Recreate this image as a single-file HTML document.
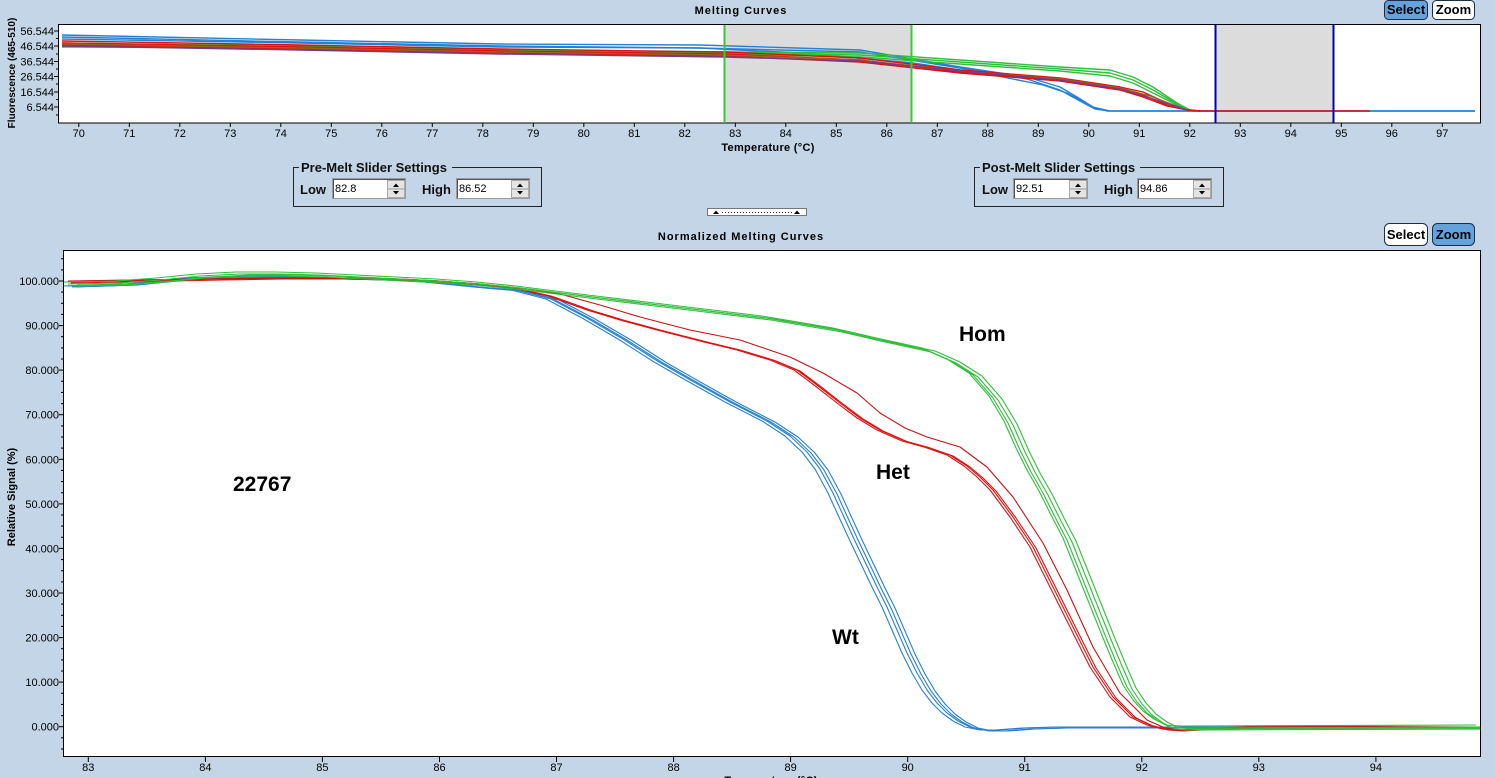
<!DOCTYPE html>
<html><head><meta charset="utf-8"><style>
html,body{margin:0;padding:0;background:#c3d5e6;}
svg{display:block;}
text{font-family:"Liberation Sans",Arial,sans-serif;}
</style></head><body>
<svg width="1495" height="778" viewBox="0 0 1495 778" xmlns="http://www.w3.org/2000/svg">
<rect x="0" y="0" width="1495" height="778" fill="#c3d5e6"/>

<!-- ===== TOP CHART ===== -->
<text x="741" y="14" font-size="11" font-weight="bold" letter-spacing="1" text-anchor="middle" fill="#000">Melting Curves</text>
<!-- buttons -->
<rect x="1384.5" y="0.5" width="43" height="19" rx="4" fill="#64a2dc" stroke="#1a2e48"/>
<text x="1406" y="14" font-size="13" font-weight="bold" text-anchor="middle" fill="#000">Select</text>
<rect x="1432.5" y="0.5" width="42" height="19" rx="4" fill="#fff" stroke="#1a2e48"/>
<text x="1453.5" y="14" font-size="13" font-weight="bold" text-anchor="middle" fill="#000">Zoom</text>

<rect x="58" y="24" width="1423" height="99" fill="#fff"/>
<rect x="725" y="25" width="186" height="98" fill="#dcdcdc"/>
<rect x="1216" y="25" width="117" height="98" fill="#dcdcdc"/>
<defs><clipPath id="ct"><rect x="59" y="25" width="1421" height="97"/></clipPath>
<clipPath id="cb"><rect x="64" y="251" width="1416" height="505"/></clipPath></defs>
<g clip-path="url(#ct)" fill="none" stroke-width="1.4" stroke-linejoin="round">
 <g stroke="#2680d2">
  <polyline points="62,35 300,40 500,44 700,45 860,50 960,67 1027,77 1060,87 1077,97 1093,107 1107,111 1475,111"/>
  <polyline points="62,37 300,42 500,46 700,48 800,53 913,63 993,75 1043,85 1067,93 1093,107 1110,111 1475,111"/>
  <polyline points="62,39 300,43 500,47 700,48 860,52 960,68 1027,79 1060,90 1080,101 1095,109 1110,111"/>
 </g>
 <g stroke="#30bf3c">
  <polyline points="62,47 300,48 500,50 725,52 860,53 960,60 1060,67 1110,70 1133,77 1153,87 1177,103 1190,110 1200,111"/>
  <polyline points="62,45 300,47 500,51 725,53 860,55 960,62 1060,69 1110,73 1133,80 1153,90 1177,104 1190,110 1200,111"/>
  <polyline points="62,43 300,46 500,50 725,54 860,57 960,64 1060,71 1110,76 1133,83 1153,93 1177,105 1190,110 1200,111"/>
 </g>
 <g stroke="#dd1111">
  <polyline points="62,41 300,45 500,49 725,52 860,58 960,70 1060,78 1120,87 1143,92 1167,103 1187,110 1200,111 1370,111"/>
  <polyline points="62,43 300,47 500,51 725,54 860,60 960,72 1060,80 1120,89 1143,95 1167,105 1187,110 1200,111"/>
  <polyline points="62,45 300,49 500,53 725,56 860,62 960,73 1060,81 1120,90 1143,97 1167,106 1187,110 1200,111"/>
 </g>
 <polyline stroke="#a0601a" points="62,44 300,48 500,52 725,55 860,60 960,71 1060,79 1120,88 1150,96 1187,110"/>
 <polyline stroke="#7a3a8a" points="62,46 300,50 500,54 725,57 860,61 960,71 1060,80 1120,89 1150,98 1187,110"/>
</g>
<rect x="58.5" y="24.5" width="1422" height="98.5" fill="none" stroke="#000"/>
<line x1="724.5" y1="25" x2="724.5" y2="123" stroke="#3c3" stroke-width="2"/>
<line x1="911.5" y1="25" x2="911.5" y2="123" stroke="#3c3" stroke-width="2"/>
<line x1="1215.5" y1="25" x2="1215.5" y2="123" stroke="#0000b0" stroke-width="2"/>
<line x1="1333.5" y1="25" x2="1333.5" y2="123" stroke="#0000b0" stroke-width="2"/>
<!-- top y ticks -->
<g stroke="#000"><line x1="54" y1="31" x2="58" y2="31"/><line x1="54" y1="46" x2="58" y2="46"/><line x1="54" y1="61.5" x2="58" y2="61.5"/><line x1="54" y1="76.5" x2="58" y2="76.5"/><line x1="54" y1="92" x2="58" y2="92"/><line x1="54" y1="107" x2="58" y2="107"/>
<line x1="56" y1="38.5" x2="58" y2="38.5"/><line x1="56" y1="54" x2="58" y2="54"/><line x1="56" y1="69" x2="58" y2="69"/><line x1="56" y1="84" x2="58" y2="84"/><line x1="56" y1="99.5" x2="58" y2="99.5"/><line x1="56" y1="115" x2="58" y2="115"/></g>
<g font-size="11" text-anchor="end" fill="#000">
<text x="54" y="35">56.544</text><text x="54" y="50">46.544</text><text x="54" y="65.5">36.544</text><text x="54" y="80.5">26.544</text><text x="54" y="96">16.544</text><text x="54" y="111">6.544</text></g>
<text transform="translate(15,73) rotate(-90)" font-size="10" font-weight="bold" text-anchor="middle" fill="#000">Fluorescence (465-510)</text>
<!-- top x ticks -->
<g stroke="#000">
<line x1="78.8" y1="123" x2="78.8" y2="127"/><line x1="129.3" y1="123" x2="129.3" y2="127"/><line x1="179.8" y1="123" x2="179.8" y2="127"/><line x1="230.3" y1="123" x2="230.3" y2="127"/><line x1="280.8" y1="123" x2="280.8" y2="127"/><line x1="331.3" y1="123" x2="331.3" y2="127"/><line x1="381.8" y1="123" x2="381.8" y2="127"/><line x1="432.3" y1="123" x2="432.3" y2="127"/><line x1="482.8" y1="123" x2="482.8" y2="127"/><line x1="533.3" y1="123" x2="533.3" y2="127"/><line x1="583.8" y1="123" x2="583.8" y2="127"/><line x1="634.3" y1="123" x2="634.3" y2="127"/><line x1="684.8" y1="123" x2="684.8" y2="127"/><line x1="735.3" y1="123" x2="735.3" y2="127"/><line x1="785.8" y1="123" x2="785.8" y2="127"/><line x1="836.3" y1="123" x2="836.3" y2="127"/><line x1="886.8" y1="123" x2="886.8" y2="127"/><line x1="937.3" y1="123" x2="937.3" y2="127"/><line x1="987.8" y1="123" x2="987.8" y2="127"/><line x1="1038.3" y1="123" x2="1038.3" y2="127"/><line x1="1088.8" y1="123" x2="1088.8" y2="127"/><line x1="1139.3" y1="123" x2="1139.3" y2="127"/><line x1="1189.8" y1="123" x2="1189.8" y2="127"/><line x1="1240.3" y1="123" x2="1240.3" y2="127"/><line x1="1290.8" y1="123" x2="1290.8" y2="127"/><line x1="1341.3" y1="123" x2="1341.3" y2="127"/><line x1="1391.8" y1="123" x2="1391.8" y2="127"/><line x1="1442.3" y1="123" x2="1442.3" y2="127"/></g>
<g font-size="11" text-anchor="middle" fill="#000">
<text x="78.8" y="137">70</text><text x="129.3" y="137">71</text><text x="179.8" y="137">72</text><text x="230.3" y="137">73</text><text x="280.8" y="137">74</text><text x="331.3" y="137">75</text><text x="381.8" y="137">76</text><text x="432.3" y="137">77</text><text x="482.8" y="137">78</text><text x="533.3" y="137">79</text><text x="583.8" y="137">80</text><text x="634.3" y="137">81</text><text x="684.8" y="137">82</text><text x="735.3" y="137">83</text><text x="785.8" y="137">84</text><text x="836.3" y="137">85</text><text x="886.8" y="137">86</text><text x="937.3" y="137">87</text><text x="987.8" y="137">88</text><text x="1038.3" y="137">89</text><text x="1088.8" y="137">90</text><text x="1139.3" y="137">91</text><text x="1189.8" y="137">92</text><text x="1240.3" y="137">93</text><text x="1290.8" y="137">94</text><text x="1341.3" y="137">95</text><text x="1391.8" y="137">96</text><text x="1442.3" y="137">97</text></g>
<text x="768" y="151" font-size="11" font-weight="bold" letter-spacing="0.3" text-anchor="middle" fill="#000">Temperature (°C)</text>

<!-- ===== SLIDER SETTINGS ===== -->
<g>
<path d="M299,167.5 H293.5 V206.5 H541.5 V167.5 H452" fill="none" stroke="#222"/>
<text x="301" y="172" font-size="13" font-weight="bold" fill="#111">Pre-Melt Slider Settings</text>
<text x="300" y="194" font-size="13" font-weight="bold" fill="#111">Low</text>
<rect x="332.5" y="178.5" width="73" height="20" fill="#fff" stroke="#999"/>
<line x1="333" y1="179.5" x2="405" y2="179.5" stroke="#555"/><line x1="333.5" y1="179" x2="333.5" y2="198" stroke="#555"/>
<text x="335" y="192" font-size="11" fill="#000">82.8</text>
<rect x="387.5" y="180.5" width="17" height="17" fill="#e4e4e4" stroke="#aaa"/><line x1="388" y1="189" x2="404" y2="189" stroke="#999"/>
<path d="M393,187 L396,183.5 L399,187Z M393,191 L396,194.5 L399,191Z" fill="#000"/>
<text x="422" y="194" font-size="13" font-weight="bold" fill="#111">High</text>
<rect x="456.5" y="178.5" width="73" height="20" fill="#fff" stroke="#999"/>
<line x1="457" y1="179.5" x2="529" y2="179.5" stroke="#555"/><line x1="457.5" y1="179" x2="457.5" y2="198" stroke="#555"/>
<text x="459" y="192" font-size="11" fill="#000">86.52</text>
<rect x="511.5" y="180.5" width="17" height="17" fill="#e4e4e4" stroke="#aaa"/><line x1="512" y1="189" x2="528" y2="189" stroke="#999"/>
<path d="M517,187 L520,183.5 L523,187Z M517,191 L520,194.5 L523,191Z" fill="#000"/>
</g>
<g>
<path d="M980,167.5 H974.5 V206.5 H1223.5 V167.5 H1140" fill="none" stroke="#222"/>
<text x="982" y="172" font-size="13" font-weight="bold" fill="#111">Post-Melt Slider Settings</text>
<text x="982" y="194" font-size="13" font-weight="bold" fill="#111">Low</text>
<rect x="1013.5" y="178.5" width="74" height="20" fill="#fff" stroke="#999"/>
<line x1="1014" y1="179.5" x2="1087" y2="179.5" stroke="#555"/><line x1="1014.5" y1="179" x2="1014.5" y2="198" stroke="#555"/>
<text x="1016" y="192" font-size="11" fill="#000">92.51</text>
<rect x="1069.5" y="180.5" width="17" height="17" fill="#e4e4e4" stroke="#aaa"/><line x1="1070" y1="189" x2="1086" y2="189" stroke="#999"/>
<path d="M1075,187 L1078,183.5 L1081,187Z M1075,191 L1078,194.5 L1081,191Z" fill="#000"/>
<text x="1104" y="194" font-size="13" font-weight="bold" fill="#111">High</text>
<rect x="1137.5" y="178.5" width="74" height="20" fill="#fff" stroke="#999"/>
<line x1="1138" y1="179.5" x2="1211" y2="179.5" stroke="#555"/><line x1="1138.5" y1="179" x2="1138.5" y2="198" stroke="#555"/>
<text x="1140" y="192" font-size="11" fill="#000">94.86</text>
<rect x="1193.5" y="180.5" width="17" height="17" fill="#e4e4e4" stroke="#aaa"/><line x1="1194" y1="189" x2="1210" y2="189" stroke="#999"/>
<path d="M1199,187 L1202,183.5 L1205,187Z M1199,191 L1202,194.5 L1205,191Z" fill="#000"/>
</g>
<!-- splitter -->
<rect x="707.5" y="208.5" width="99" height="7" fill="#fff" stroke="#777"/>
<path d="M713,214 L716,210.5 L719,214Z M794,214 L797,210.5 L800,214Z" fill="#000"/>
<line x1="722" y1="212.5" x2="792" y2="212.5" stroke="#333" stroke-dasharray="1,2"/>

<!-- ===== BOTTOM CHART ===== -->
<text x="741" y="240" font-size="11" font-weight="bold" letter-spacing="1" text-anchor="middle" fill="#000">Normalized Melting Curves</text>
<rect x="1384.5" y="223.5" width="43" height="22" rx="5" fill="#fff" stroke="#1a2e48"/>
<text x="1406" y="239" font-size="13" font-weight="bold" text-anchor="middle" fill="#000">Select</text>
<rect x="1432.5" y="223.5" width="42" height="22" rx="5" fill="#64a2dc" stroke="#1a2e48"/>
<text x="1453.5" y="239" font-size="13" font-weight="bold" text-anchor="middle" fill="#000">Zoom</text>

<rect x="63" y="250" width="1418" height="507" fill="#fff"/>
<g clip-path="url(#cb)" fill="none" stroke-width="1.1" stroke-linejoin="round">
 <g stroke="#2680d2">
  <polyline id="bl" points="68,286 100,285 130,284 160,281 190,278 220,277 260,276 300,277 340,278 380,279 420,281 450,284 480,287 516,290 551,299 587,318 623,339 659,362 694,382 730,402 767,421 790,436 807,452 820,469 833,493 843,515 855,541 867,566 877,587 887,607 897,630 907,653 917,673 927,690 937,703 947,713 958,721 970,727 985,730 1000,730 1027,728 1060,727 1480,727"/>
  <polyline transform="translate(-5,0)" points="68,286 100,285 130,284 160,281 190,278 220,277 260,276 300,277 340,278 380,279 420,281 450,284 480,287 516,290 551,299 587,318 623,339 659,362 694,382 730,402 767,421 790,436 807,452 820,469 833,493 843,515 855,541 867,566 877,587 887,607 897,630 907,653 917,673 927,690 937,703 947,713 958,721 970,727 985,730 1000,730 1027,728 1060,727 1480,727"/>
  <polyline transform="translate(4,1)" points="68,286 100,285 130,284 160,281 190,278 220,277 260,276 300,277 340,278 380,279 420,281 450,284 480,287 516,290 551,299 587,318 623,339 659,362 694,382 730,402 767,421 790,436 807,452 820,469 833,493 843,515 855,541 867,566 877,587 887,607 897,630 907,653 917,673 927,690 937,703 947,713 958,721 970,727 985,730 1000,730 1027,728 1060,727 1480,727"/>
  <polyline transform="translate(8,1)" points="68,286 100,285 130,284 160,281 190,278 220,277 260,276 300,277 340,278 380,279 420,281 450,284 480,287 516,290 551,299 587,318 623,339 659,362 694,382 730,402 767,421 790,436 807,452 820,469 833,493 843,515 855,541 867,566 877,587 887,607 897,630 907,653 917,673 927,690 937,703 947,713 958,721 970,727 985,730 1000,730 1027,728 1060,727 1480,727"/>
 </g>
 <g stroke="#dd1111">
  <polyline points="68,282 120,281 170,280 220,279 280,278 340,278 400,279 440,281 480,284 520,289 551,296 590,310 623,320 660,330 707,342 740,350 773,360 797,370 817,385 840,403 860,418 880,430 905,441 927,447 950,455 967,466 980,477 993,490 1013,517 1033,547 1053,587 1073,627 1093,667 1113,697 1133,717 1150,725 1165,729 1180,730 1200,729 1230,728 1260,726 1300,726 1340,727 1480,727"/>
  <polyline transform="translate(-3,0)" points="68,282 120,281 170,280 220,279 280,278 340,278 400,279 440,281 480,284 520,289 551,296 590,310 623,320 660,330 707,342 740,350 773,360 797,370 817,385 840,403 860,418 880,430 905,441 927,447 950,455 967,466 980,477 993,490 1013,517 1033,547 1053,587 1073,627 1093,667 1113,697 1133,717 1150,725 1165,729 1180,730 1200,729 1230,728 1260,726 1300,726 1340,727 1480,727"/>
  <polyline transform="translate(3,1)" points="68,282 120,281 170,280 220,279 280,278 340,278 400,279 440,281 480,284 520,289 551,296 590,310 623,320 660,330 707,342 740,350 773,360 797,370 817,385 840,403 860,418 880,430 905,441 927,447 950,455 967,466 980,477 993,490 1013,517 1033,547 1053,587 1073,627 1093,667 1113,697 1133,717 1150,725 1165,729 1180,730 1200,729 1230,728 1260,726 1300,726 1340,727 1480,727"/>
  <polyline stroke="#c81010" points="68,281 200,279 300,278 400,279 440,281 480,284 520,288 560,294 600,305 640,317 690,330 740,340 790,357 823,373 857,393 880,413 905,428 927,437 960,447 987,467 1013,497 1043,543 1067,590 1093,647 1120,693 1147,720 1165,728 1180,730 1200,729 1260,726 1480,727"/>
 </g>
 <g stroke="#2fbf3a">
  <polyline points="68,284 120,283 160,280 200,276 240,274 280,274 320,275 360,277 400,279 440,281 480,284 520,288 551,292 600,298 650,304 700,310 766,318 837,330 880,340 926,350 951,361 973,375 993,398 1008,423 1020,450 1031,472 1043,493 1055,517 1067,540 1077,565 1087,590 1097,615 1107,640 1117,664 1127,687 1137,702 1147,713 1158,721 1170,727 1185,728 1480,727"/>
  <polyline transform="translate(-4,-2)" points="68,284 120,283 160,280 200,276 240,274 280,274 320,275 360,277 400,279 440,281 480,284 520,288 551,292 600,298 650,304 700,310 766,318 837,330 880,340 926,350 951,361 973,375 993,398 1008,423 1020,450 1031,472 1043,493 1055,517 1067,540 1077,565 1087,590 1097,615 1107,640 1117,664 1127,687 1137,702 1147,713 1158,721 1170,727 1185,728 1480,727"/>
  <polyline transform="translate(5,2)" points="68,284 120,283 160,280 200,276 240,274 280,274 320,275 360,277 400,279 440,281 480,284 520,288 551,292 600,298 650,304 700,310 766,318 837,330 880,340 926,350 951,361 973,375 993,398 1008,423 1020,450 1031,472 1043,493 1055,517 1067,540 1077,565 1087,590 1097,615 1107,640 1117,664 1127,687 1137,702 1147,713 1158,721 1170,727 1185,728 1480,727"/>
  <polyline transform="translate(9,1)" points="68,284 120,283 160,280 200,276 240,274 280,274 320,275 360,277 400,279 440,281 480,284 520,288 551,292 600,298 650,304 700,310 766,318 837,330 880,340 926,350 951,361 973,375 993,398 1008,423 1020,450 1031,472 1043,493 1055,517 1067,540 1077,565 1087,590 1097,615 1107,640 1117,664 1127,687 1137,702 1147,713 1158,721 1170,727 1185,728 1480,727"/>
 </g>
</g>
<rect x="63.5" y="250.5" width="1417" height="506" fill="none" stroke="#000"/>
<!-- bottom y ticks -->
<g stroke="#000">
<line x1="59" y1="281" x2="63" y2="281"/><line x1="59" y1="325.6" x2="63" y2="325.6"/><line x1="59" y1="370.1" x2="63" y2="370.1"/><line x1="59" y1="414.7" x2="63" y2="414.7"/><line x1="59" y1="459.3" x2="63" y2="459.3"/><line x1="59" y1="503.9" x2="63" y2="503.9"/><line x1="59" y1="548.4" x2="63" y2="548.4"/><line x1="59" y1="593" x2="63" y2="593"/><line x1="59" y1="637.6" x2="63" y2="637.6"/><line x1="59" y1="682.1" x2="63" y2="682.1"/><line x1="59" y1="726.7" x2="63" y2="726.7"/>
<line x1="61" y1="258.7" x2="63" y2="258.7"/><line x1="61" y1="269.9" x2="63" y2="269.9"/><line x1="61" y1="292.1" x2="63" y2="292.1"/><line x1="61" y1="303.3" x2="63" y2="303.3"/><line x1="61" y1="314.4" x2="63" y2="314.4"/><line x1="61" y1="336.7" x2="63" y2="336.7"/><line x1="61" y1="347.9" x2="63" y2="347.9"/><line x1="61" y1="359" x2="63" y2="359"/><line x1="61" y1="381.3" x2="63" y2="381.3"/><line x1="61" y1="392.4" x2="63" y2="392.4"/><line x1="61" y1="403.6" x2="63" y2="403.6"/><line x1="61" y1="425.9" x2="63" y2="425.9"/><line x1="61" y1="437" x2="63" y2="437"/><line x1="61" y1="448.1" x2="63" y2="448.1"/><line x1="61" y1="470.4" x2="63" y2="470.4"/><line x1="61" y1="481.6" x2="63" y2="481.6"/><line x1="61" y1="492.7" x2="63" y2="492.7"/><line x1="61" y1="515" x2="63" y2="515"/><line x1="61" y1="526.1" x2="63" y2="526.1"/><line x1="61" y1="537.3" x2="63" y2="537.3"/><line x1="61" y1="559.6" x2="63" y2="559.6"/><line x1="61" y1="570.7" x2="63" y2="570.7"/><line x1="61" y1="581.9" x2="63" y2="581.9"/><line x1="61" y1="604.1" x2="63" y2="604.1"/><line x1="61" y1="615.3" x2="63" y2="615.3"/><line x1="61" y1="626.4" x2="63" y2="626.4"/><line x1="61" y1="648.7" x2="63" y2="648.7"/><line x1="61" y1="659.9" x2="63" y2="659.9"/><line x1="61" y1="671" x2="63" y2="671"/><line x1="61" y1="693.3" x2="63" y2="693.3"/><line x1="61" y1="704.4" x2="63" y2="704.4"/><line x1="61" y1="715.6" x2="63" y2="715.6"/><line x1="61" y1="737.8" x2="63" y2="737.8"/><line x1="61" y1="749" x2="63" y2="749"/>
</g>
<g font-size="11" text-anchor="end" fill="#000">
<text x="59" y="285">100.000</text><text x="59" y="329.6">90.000</text><text x="59" y="374.1">80.000</text><text x="59" y="418.7">70.000</text><text x="59" y="463.3">60.000</text><text x="59" y="507.9">50.000</text><text x="59" y="552.4">40.000</text><text x="59" y="597">30.000</text><text x="59" y="641.6">20.000</text><text x="59" y="686.1">10.000</text><text x="59" y="730.7">0.000</text></g>
<text transform="translate(15,497) rotate(-90)" font-size="11" font-weight="bold" text-anchor="middle" fill="#000">Relative Signal (%)</text>
<!-- bottom x ticks -->
<g stroke="#000">
<line x1="88.3" y1="757" x2="88.3" y2="762"/><line x1="205.4" y1="757" x2="205.4" y2="762"/><line x1="322.4" y1="757" x2="322.4" y2="762"/><line x1="439.5" y1="757" x2="439.5" y2="762"/><line x1="556.5" y1="757" x2="556.5" y2="762"/><line x1="673.6" y1="757" x2="673.6" y2="762"/><line x1="790.6" y1="757" x2="790.6" y2="762"/><line x1="907.7" y1="757" x2="907.7" y2="762"/><line x1="1024.7" y1="757" x2="1024.7" y2="762"/><line x1="1141.8" y1="757" x2="1141.8" y2="762"/><line x1="1258.8" y1="757" x2="1258.8" y2="762"/><line x1="1375.9" y1="757" x2="1375.9" y2="762"/></g>
<g font-size="11" text-anchor="middle" fill="#000">
<text x="88.3" y="771">83</text><text x="205.4" y="771">84</text><text x="322.4" y="771">85</text><text x="439.5" y="771">86</text><text x="556.5" y="771">87</text><text x="673.6" y="771">88</text><text x="790.6" y="771">89</text><text x="907.7" y="771">90</text><text x="1024.7" y="771">91</text><text x="1141.8" y="771">92</text><text x="1258.8" y="771">93</text><text x="1375.9" y="771">94</text></g>
<text x="771" y="784" font-size="11" font-weight="bold" letter-spacing="0.3" text-anchor="middle" fill="#000">Temperature (°C)</text>

<!-- annotations -->
<g font-size="21" font-weight="bold" fill="#000">
<text x="233" y="491">22767</text>
<text x="959" y="341">Hom</text>
<text x="876" y="479">Het</text>
<text x="832" y="644">Wt</text>
</g>
</svg>
</body></html>
